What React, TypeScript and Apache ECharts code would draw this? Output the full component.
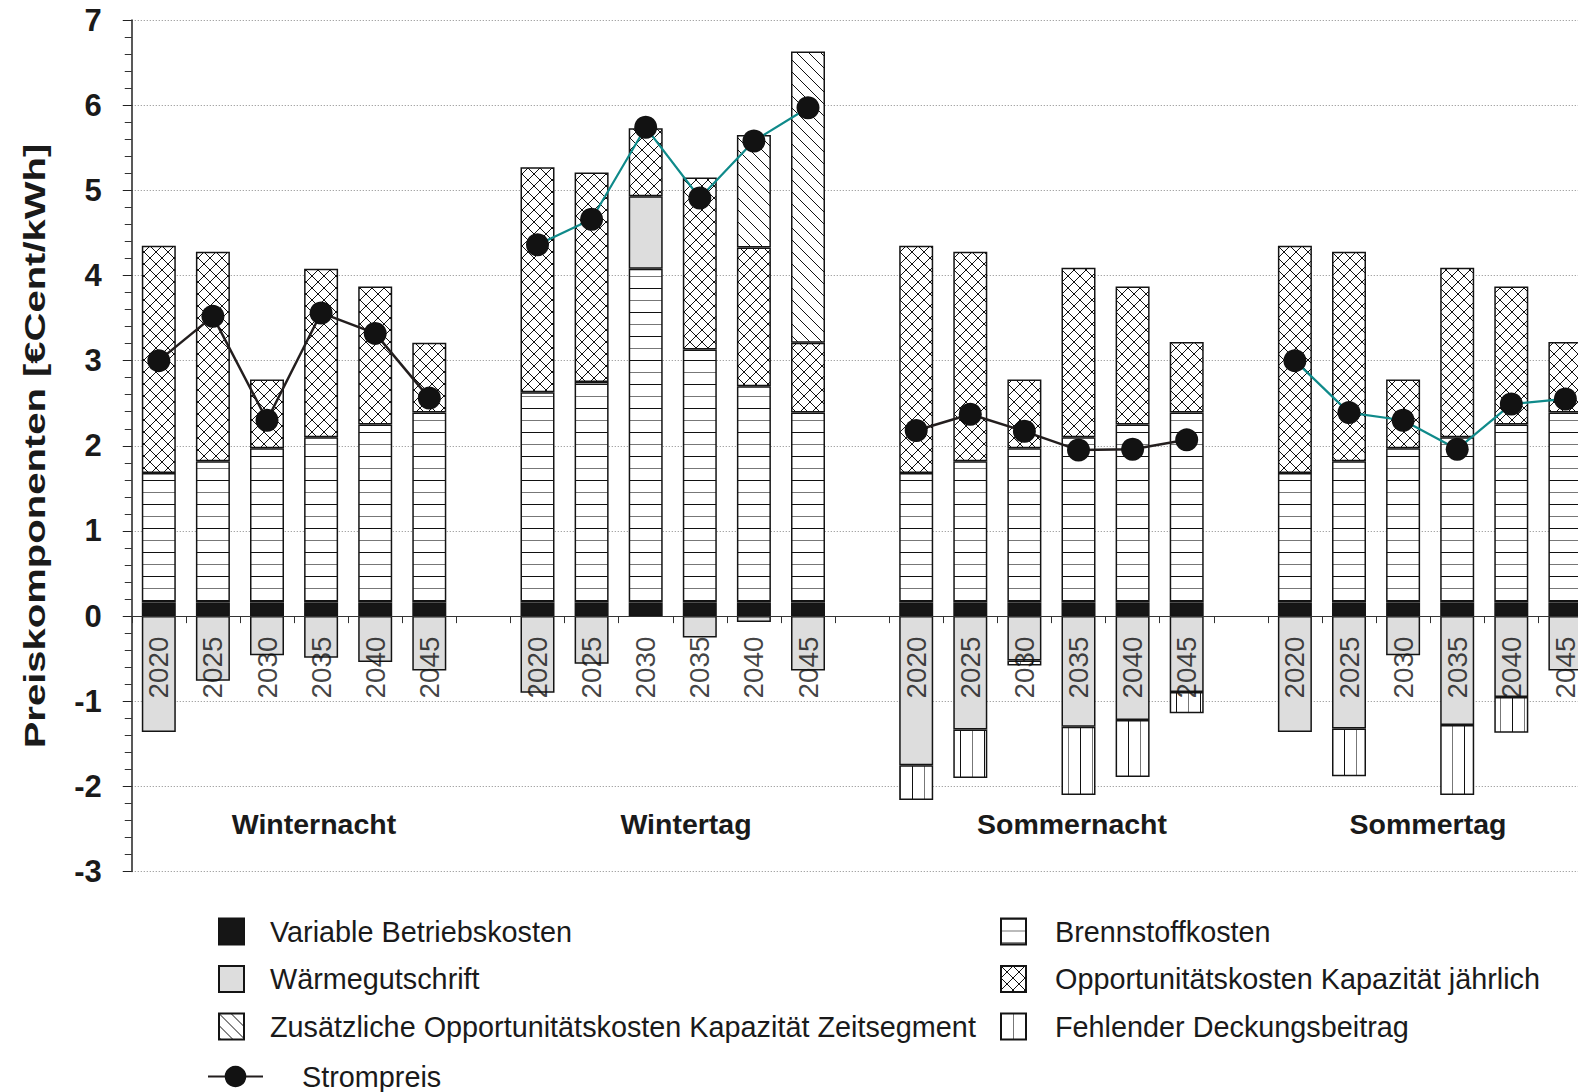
import React, { useEffect, useRef } from 'react';
import * as echarts from 'echarts';

const FONT = '"Liberation Sans", Arial, Helvetica, sans-serif';

const years = ['2020', '2025', '2030', '2035', '2040', '2045'];
const groups = ['Winternacht', 'Wintertag', 'Sommernacht', 'Sommertag'];

// Components per group (6 years each)
const variableCosts = [
  [0.16, 0.16, 0.16, 0.16, 0.16, 0.16],
  [0.16, 0.16, 0.16, 0.16, 0.16, 0.16],
  [0.16, 0.16, 0.16, 0.16, 0.16, 0.16],
  [0.16, 0.16, 0.16, 0.16, 0.16, 0.16],
];
const fuelCosts = [
  [1.52, 1.66, 1.81, 1.94, 2.09, 2.23],
  [2.47, 2.59, 3.92, 2.97, 2.54, 2.23],
  [1.52, 1.66, 1.81, 1.94, 2.09, 2.23],
  [1.52, 1.66, 1.81, 1.94, 2.09, 2.23],
];
const heatCredit = [
  [-1.36, -0.76, -0.46, -0.49, -0.54, -0.64],
  [-0.9, -0.56, 0.85, -0.25, -0.07, -0.64],
  [-1.75, -1.33, -0.52, -1.3, -1.22, -0.89],
  [-1.36, -1.32, -0.46, -1.28, -0.95, -0.64],
];
const capacityAnnual = [
  [2.67, 2.46, 0.81, 1.98, 1.62, 0.82],
  [2.64, 2.46, 0.8, 2.02, 1.63, 0.82],
  [2.67, 2.46, 0.81, 1.99, 1.62, 0.83],
  [2.67, 2.46, 0.81, 1.99, 1.62, 0.83],
];
const capacitySegment = [
  [null, null, null, null, null, null],
  [null, null, null, null, 1.32, 3.42],
  [null, null, null, null, null, null],
  [null, null, null, null, null, null],
];
const missingMargin = [
  [null, null, null, null, null, null],
  [null, null, null, null, null, null],
  [-0.41, -0.57, -0.06, -0.8, -0.67, -0.25],
  [null, -0.56, null, -0.82, -0.42, null],
];
const powerPrice = [
  [3.0, 3.52, 2.3, 3.56, 3.32, 2.56],
  [4.36, 4.66, 5.74, 4.91, 5.58, 5.97],
  [2.18, 2.37, 2.17, 1.95, 1.96, 2.07],
  [3.0, 2.39, 2.3, 1.96, 2.49, 2.55],
];

const yTicks = { min: -3, max: 7, interval: 1 };

// categories: 4 groups of 6 years with an empty slot between groups
const categories: string[] = [];
groups.forEach((g, i) => {
  categories.push(...years);
  if (i < groups.length - 1) categories.push('');
});

function flatten(arr: (number | null)[][], mask?: boolean[]) {
  const out: (number | null)[] = [];
  arr.forEach((grp, i) => {
    grp.forEach((v) => out.push(mask && !mask[i] ? null : v));
    if (i < arr.length - 1) out.push(null);
  });
  return out;
}

function makePattern(w: number, h: number, draw: (ctx: CanvasRenderingContext2D) => void) {
  const c = document.createElement('canvas');
  c.width = w;
  c.height = h;
  const ctx = c.getContext('2d')!;
  ctx.fillStyle = '#ffffff';
  ctx.fillRect(0, 0, w, h);
  draw(ctx);
  return { image: c.toDataURL(), repeat: 'repeat', imageWidth: w, imageHeight: h } as any;
}

const CHART_W = 1600;
const CHART_H = 1092;

export default function App() {
  const ref = useRef<HTMLDivElement>(null);
  useEffect(() => {
    const chart = echarts.init(ref.current!, null, { renderer: 'svg' });

    const horiz = makePattern(12, 24, (ctx) => {
      ctx.fillStyle = '#111';
      ctx.fillRect(0, 0, 12, 1);
      ctx.fillStyle = '#777';
      ctx.fillRect(0, 12, 12, 1);
    });
    const vert = makePattern(24, 12, (ctx) => {
      ctx.fillStyle = '#111';
      ctx.fillRect(0, 0, 1, 12);
      ctx.fillStyle = '#777';
      ctx.fillRect(12, 0, 1, 12);
    });
    const cross = makePattern(12, 12, (ctx) => {
      ctx.strokeStyle = '#111';
      ctx.lineWidth = 1;
      ctx.beginPath();
      ctx.moveTo(-1, -1);
      ctx.lineTo(13, 13);
      ctx.moveTo(13, -1);
      ctx.lineTo(-1, 13);
      ctx.stroke();
    });
    const diag = makePattern(12, 12, (ctx) => {
      ctx.strokeStyle = '#111';
      ctx.lineWidth = 1;
      ctx.beginPath();
      ctx.moveTo(-1, -1);
      ctx.lineTo(13, 13);
      ctx.stroke();
    });

    const border = { borderColor: '#141414', borderWidth: 1.5 };
    const barBase = { type: 'bar', stack: 'total', barWidth: 34 };

    const blackMask = [true, false, true, false];
    const tealMask = [false, true, false, true];

    const gridLeft = 131.75;
    const gridWidth = 54.1 * categories.length;

    const yearLabelData = categories
      .map((c, i) => (c ? [i, 0] : null))
      .filter((d) => d !== null);

    const option: any = {
      animation: false,
      backgroundColor: '#ffffff',
      textStyle: { fontFamily: FONT },
      grid: { left: gridLeft, width: gridWidth, top: 20, bottom: 220.4, containLabel: false },
      xAxis: {
        type: 'category',
        data: categories,
        z: 5,
        axisLine: { onZero: true, lineStyle: { color: '#333', width: 1 } },
        axisTick: { show: true, interval: 0, length: 7, lineStyle: { color: '#333' } },
        axisLabel: { show: false },
        splitLine: { show: false },
      },
      yAxis: {
        type: 'value',
        min: yTicks.min,
        max: yTicks.max,
        interval: yTicks.interval,
        axisLine: { show: true, lineStyle: { color: '#222', width: 1.5 } },
        axisTick: { show: true, length: 9, lineStyle: { color: '#222' } },
        minorTick: { show: true, splitNumber: 5, length: 7, lineStyle: { color: '#333' } },
        axisLabel: { fontSize: 31, fontWeight: 'bold', color: '#1a1a1a', margin: 30, fontFamily: FONT },
        splitLine: { show: true, lineStyle: { type: [1, 2], color: '#888', width: 1 } },
      },
      legend: [
        {
          data: ['Variable Betriebskosten', 'Wärmegutschrift', 'Zusätzliche Opportunitätskosten Kapazität Zeitsegment'],
          orient: 'vertical',
          left: 218,
          top: 917,
          padding: 0,
          itemWidth: 25,
          itemHeight: 26,
          itemGap: 18.5,
          icon: 'rect',
          textStyle: { fontSize: 28.8, color: '#1a1a1a', fontFamily: FONT, padding: [0, 0, 0, 21] },
        },
        {
          data: ['Brennstoffkosten', 'Opportunitätskosten Kapazität jährlich', 'Fehlender Deckungsbeitrag'],
          orient: 'vertical',
          left: 1000,
          top: 917,
          padding: 0,
          itemWidth: 25,
          itemHeight: 26,
          itemGap: 18.5,
          icon: 'rect',
          textStyle: { fontSize: 28.8, color: '#1a1a1a', fontFamily: FONT, padding: [0, 0, 0, 24] },
        },
        {
          data: ['Strompreis'],
          orient: 'vertical',
          left: 207,
          top: 1062,
          padding: 0,
          itemWidth: 55,
          itemHeight: 27,
          textStyle: { fontSize: 28.8, color: '#1a1a1a', fontFamily: FONT, padding: [0, 0, 0, 34] },
        },
      ],
      graphic: [
        {
          type: 'text',
          x: 35,
          y: 446,
          rotation: Math.PI / 2,
          scaleX: 1.38,
          style: {
            text: 'Preiskomponenten [€Cent/kWh]',
            fill: '#1a1a1a',
            fontSize: 29,
            fontWeight: 'bold',
            fontFamily: FONT,
            align: 'center',
            verticalAlign: 'middle',
          },
        },
        ...[
          { t: groups[0], x: 314 },
          { t: groups[1], x: 686 },
          { t: groups[2], x: 1072 },
          { t: groups[3], x: 1428 },
        ].map((g) => ({
          type: 'text',
          x: g.x,
          y: 824,
          style: {
            text: g.t,
            fill: '#1a1a1a',
            fontSize: 28.5,
            fontWeight: 'bold',
            fontFamily: FONT,
            align: 'center',
            verticalAlign: 'middle',
          },
        })),
      ],
      series: [
        { ...barBase, name: 'Variable Betriebskosten', data: flatten(variableCosts), itemStyle: { color: '#161616', ...border } },
        { ...barBase, name: 'Brennstoffkosten', data: flatten(fuelCosts), itemStyle: { color: horiz, ...border } },
        { ...barBase, name: 'Wärmegutschrift', data: flatten(heatCredit), itemStyle: { color: '#dddddd', ...border } },
        { ...barBase, name: 'Opportunitätskosten Kapazität jährlich', data: flatten(capacityAnnual), itemStyle: { color: cross, ...border } },
        { ...barBase, name: 'Zusätzliche Opportunitätskosten Kapazität Zeitsegment', data: flatten(capacitySegment as any), itemStyle: { color: diag, ...border } },
        { ...barBase, name: 'Fehlender Deckungsbeitrag', data: flatten(missingMargin as any), itemStyle: { color: vert, ...border } },
        {
          type: 'line',
          name: 'Strompreis',
          z: 4,
          data: flatten(powerPrice, blackMask),
          connectNulls: false,
          symbol: 'circle',
          symbolSize: 23,
          itemStyle: { color: '#121212' },
          lineStyle: { color: '#231e1e', width: 2.5 },
        },
        {
          type: 'line',
          name: 'Strompreis',
          z: 4,
          data: flatten(powerPrice, tealMask),
          connectNulls: false,
          symbol: 'circle',
          symbolSize: 23,
          itemStyle: { color: '#121212' },
          lineStyle: { color: '#0f8a8a', width: 2.2 },
        },
        {
          type: 'scatter',
          name: 'Jahr',
          z: 6,
          silent: true,
          symbolSize: 1,
          itemStyle: { color: 'rgba(0,0,0,0)' },
          data: yearLabelData,
          label: {
            show: true,
            position: 'bottom',
            distance: 20,
            rotate: 90,
            align: 'right',
            verticalAlign: 'middle',
            fontSize: 27.8,
            color: '#111',
            fontFamily: FONT,
            formatter: (p: any) => categories[p.value[0]],
          },
        },
      ],
    };

    chart.setOption(option);
    return () => chart.dispose();
  }, []);

  return (
    <div style={{ position: 'fixed', left: 0, top: 0, width: 1578, height: 1092, overflow: 'hidden', background: '#fff' }}>
      <div ref={ref} style={{ width: CHART_W, height: CHART_H }} />
    </div>
  );
}
